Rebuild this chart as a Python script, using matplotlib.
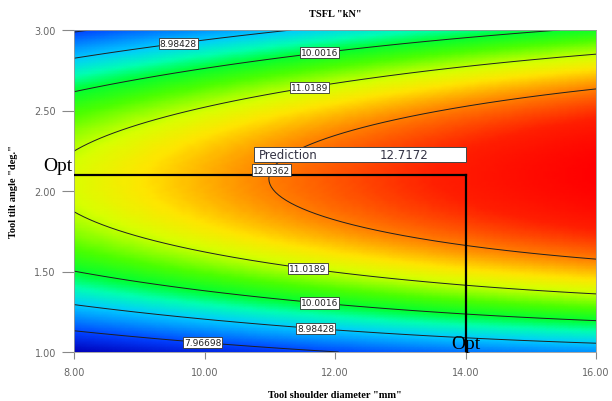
import numpy as np
import matplotlib

matplotlib.use("Agg")
import matplotlib.pyplot as plt
from matplotlib.colors import LinearSegmentedColormap
from matplotlib.patches import Rectangle

# quadratic response surface for TSFL in coded units
# A = (diameter - 12) / 4, B = (tilt - 2) / 1
coef_names = ["b0", "A", "B", "AB", "A2", "B2"]
coef_values = [12.266, 0.946, 0.61, 0.17, -0.183, -3.7]

diameter_range = [8.0, 16.0]
tilt_range = [1.0, 3.0]
levels = [7.96698, 8.98428, 10.0016, 11.0189, 12.0362]
level_labels = ["7.96698", "8.98428", "10.0016", "11.0189", "12.0362"]

# label anchor points (diameter, tilt)
label_points = [(9.59, 2.95), (11.77, 2.84), (11.6, 2.66), (10.99, 2.14),
                (11.6, 1.56), (11.77, 1.34), (11.71, 1.19), (9.98, 1.10)]

opt_diameter = 14.0
opt_tilt = 2.1
prediction = "12.7172"

x_ticks = [8, 10, 12, 14, 16]
y_ticks = [1.0, 1.5, 2.0, 2.5, 3.0]


def tsfl(d, t):
    c = dict(zip(coef_names, coef_values))
    a = (d - 12.0) / 4.0
    b = t - 2.0
    return (c["b0"] + c["A"] * a + c["B"] * b + c["AB"] * a * b
            + c["A2"] * a ** 2 + c["B2"] * b ** 2)


d = np.linspace(*diameter_range, 120)
t = np.linspace(*tilt_range, 120)
D, T = np.meshgrid(d, t)
Z = tsfl(D, T)

cmap = LinearSegmentedColormap.from_list("de", [
    (0.00, (0.0, 0.0, 0.72)),
    (0.15, (0.0, 0.25, 1.0)),
    (0.33, (0.0, 0.8, 1.0)),
    (0.42, (0.0, 1.0, 0.7)),
    (0.49, (0.0, 1.0, 0.2)),
    (0.58, (0.3, 1.0, 0.0)),
    (0.68, (0.85, 1.0, 0.0)),
    (0.74, (1.0, 0.9, 0.0)),
    (0.83, (1.0, 0.5, 0.0)),
    (0.93, (1.0, 0.12, 0.0)),
    (1.00, (1.0, 0.0, 0.0)),
])

fig = plt.figure(figsize=(6.12, 4.02), dpi=100)
ax = fig.add_axes([74 / 612, 1 - 353 / 402, (596 - 74) / 612, (353 - 31) / 402])

ax.pcolormesh(D, T, Z, cmap=cmap, shading="gouraud", vmin=Z.min(), vmax=Z.max())
cs = ax.contour(D, T, Z, levels=levels, colors="#202020", linewidths=0.7)
texts = ax.clabel(cs, levels=levels, inline=False, fontsize=6.5,
                  fmt=dict(zip(levels, level_labels)), manual=label_points,
                  colors="#222222")
for txt in texts:
    txt.set_rotation(0)
    txt.set_zorder(6)
    txt.set_bbox(dict(facecolor="white", edgecolor="#333333", linewidth=0.6, pad=0.8))

# optimum cross-hair and prediction box
ax.plot([diameter_range[0], opt_diameter], [opt_tilt, opt_tilt], color="black", lw=1.6, zorder=5)
ax.plot([opt_diameter, opt_diameter], [tilt_range[0], opt_tilt], color="black", lw=1.6, zorder=5)
ax.add_patch(Rectangle((10.76, 2.18), opt_diameter - 10.76, 0.093, facecolor="white",
                       edgecolor="#444444", lw=0.7, zorder=5))
ax.text(10.84, 2.226, "Prediction", fontsize=8.5, color="#333344", va="center", zorder=6)
ax.text(12.69, 2.226, prediction, fontsize=8.5, color="#333344", va="center", zorder=6)

ax.text(-0.002, opt_tilt + 0.005, "Opt", transform=ax.get_yaxis_transform(), ha="right",
        va="bottom", fontsize=14, family="Liberation Serif", clip_on=False)
ax.text(opt_diameter, 1.0, "Opt", ha="center", va="bottom", fontsize=14,
        family="Liberation Serif", zorder=7, clip_on=False)

ax.set_xlim(*diameter_range)
ax.set_ylim(*tilt_range)
ax.set_xticks(x_ticks)
ax.set_xticklabels([f"{v:.2f}" for v in x_ticks])
ax.set_yticks(y_ticks)
ax.set_yticklabels([f"{v:.2f}" for v in y_ticks])
ax.tick_params(axis="y", length=9, width=0.8, color="#888888", labelsize=7, labelcolor="#666666", pad=4)
ax.tick_params(axis="x", length=5, width=0.8, color="#888888", labelsize=7, labelcolor="#666666", pad=6)
for spine in ax.spines.values():
    spine.set_color("#999999")
    spine.set_linewidth(0.6)

ax.set_title('TSFL "kN"', fontsize=7.5, fontweight="bold", family="Liberation Serif", pad=10)
ax.set_xlabel('Tool shoulder diameter "mm"', fontsize=7.5, fontweight="bold",
              family="Liberation Serif", labelpad=9)
ax.set_ylabel('Tool tilt angle "deg."', fontsize=7.5, fontweight="bold",
              family="Liberation Serif", labelpad=12)

fig.savefig("out.png", dpi=100)
